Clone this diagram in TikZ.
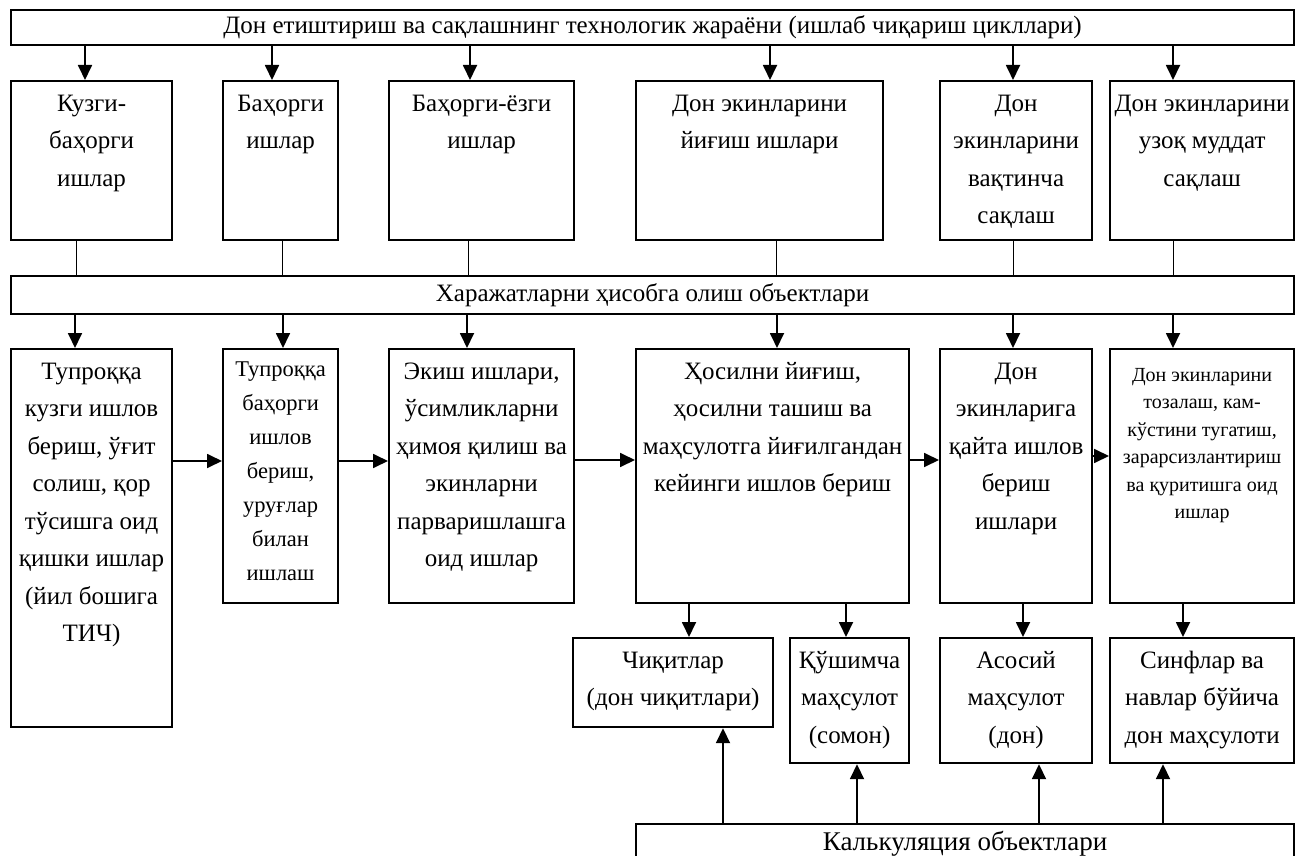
\documentclass[tikz,border=0pt]{standalone}
\usepackage{fontspec}
\setmainfont{Liberation Serif}
\usetikzlibrary{arrows.meta,positioning}
\newcommand{\ustmatn}[4]{\parbox[t][#2][t]{#1}{\centering\rule{0pt}{#3}#4}}

\begin{document}
\begin{tikzpicture}[
    x=1pt,
    y=-1pt,
    font=\fontsize{25}{37.5}\selectfont,
    blok/.style ={
        draw,
        line width=2.2pt,
        inner sep=0pt,
        anchor=north west
    },
    oq/.style ={
        line width=1.8pt,
        -{Triangle[length=15pt,width=14pt]}
    },
    chiziq/.style ={
        line width=1pt
    }
    ]
    \useasboundingbox (0,0) rectangle (1295,856);
    \clip (0,0) rectangle (1295,856);

    \node[blok, minimum width=1283pt, minimum height=35pt] (jarayon) at (10,9)
        {Дон етиштириш ва сақлашнинг технологик жараёни (ишлаб чиқариш цикллари)};
    \node[blok, minimum width=1283pt, minimum height=38pt] (xarajat) at (10,275)
        {Харажатларни ҳисобга олиш объектлари};
    \node[blok, font=\fontsize{27}{37.5}\selectfont] (kalk) at (635,823)
        {\ustmatn{658pt}{45pt}{26.5pt}{Калькуляция объектлари}};

    \foreach \nom/ \x/ \w/ \matn in {
        {a1/10/161/{Кузги-\\баҳорги\\ишлар}}, {a2/222/115/{Баҳорги\\ишлар}}, {a3/388/185/{Баҳорги-ёзги\\ишлар}},
        {a4/635/247/{Дон экинларини\\йиғиш ишлари}}, {a5/939/152/{Дон\\экинларини\\вақтинча\\сақлаш}},
        {a6/1109/184/{Дон экинларини\\узоқ муддат\\сақлаш}}}
        \node[blok] (\nom) at (\x,80) {\ustmatn{\w pt}{159pt}{30pt}{\matn}};

    \foreach \nom/ \x/ \w/ \h/ \fs/ \ls/ \bs/ \matn in {
        {b1/10/161/378/25/37.5/30/{Тупроққа\\кузги ишлов\\бериш, ўғит\\солиш, қор\\тўсишга оид\\қишки ишлар\\(йил бошига\\ТИЧ)}},
        {b2/222/115/254/22.5/34/27/{Тупроққа\\баҳорги\\ишлов\\бериш,\\уруғлар\\билан\\ишлаш}},
        {b3/388/185/254/25/37.5/30/{Экиш ишлари,\\ўсимликларни\\ҳимоя қилиш ва\\экинларни\\парваришлашга\\оид ишлар}},
        {b4/635/273/254/25/37.5/30/{Ҳосилни йиғиш,\\ҳосилни ташиш ва\\маҳсулотга йиғилгандан\\кейинги ишлов бериш}},
        {b5/939/152/254/25/37.5/30/{Дон\\экинларига\\қайта ишлов\\бериш\\ишлари}},
        {b6/1109/184/254/20/27.5/32/{Дон экинларини\\тозалаш, кам-\\кўстини тугатиш,\\зарарсизлантириш\\ва қуритишга оид\\ишлар}}}
        \node[blok, font=\fontsize{\fs}{\ls}\selectfont] (\nom) at (\x,348) {\ustmatn{\w pt}{\h pt}{\bs pt}{\matn}};

    \foreach \nom/ \x/ \w/ \h/ \matn in {
        {c1/572/200/89/{Чиқитлар\\(дон чиқитлари)}}, {c2/789/119/125/{Қўшимча\\маҳсулот\\(сомон)}},
        {c3/939/152/125/{Асосий\\маҳсулот\\(дон)}}, {c4/1109/184/125/{Синфлар ва\\навлар бўйича\\дон маҳсулоти}}}
        \node[blok] (\nom) at (\x,637) {\ustmatn{\w pt}{\h pt}{30pt}{\matn}};

    \foreach \dst/ \x in {a1/85, a2/272, a3/470, a4/770, a5/1013, a6/1173}
        \draw[oq] (jarayon.south -| \x,0) -- (\dst.north -| \x,0);
    \foreach \src/ \x in {a1/76, a2/282, a3/468, a4/776, a5/1013, a6/1173}
        \draw[chiziq] (\src.south -| \x,0) -- (xarajat.north -| \x,0);
    \foreach \dst/ \x in {b1/75, b2/283, b3/467, b4/777, b5/1013, b6/1173}
        \draw[oq] (xarajat.south -| \x,0) -- (\dst.north -| \x,0);

    \foreach \src/ \dst/ \y in {b1/b2/461, b2/b3/461, b3/b4/460, b4/b5/460, b5/b6/456}
        \draw[oq] (\src.east |- 0,\y) -- (\dst.west |- 0,\y);
    \foreach \src/ \dst/ \x in {b4/c1/689, b4/c2/846, b5/c3/1023, b6/c4/1183}
        \draw[oq] (\src.south -| \x,0) -- (\dst.north -| \x,0);
    \foreach \dst/ \x in {c1/723, c2/857, c3/1039, c4/1163}
        \draw[oq] (kalk.north -| \x,0) -- (\dst.south -| \x,0);
\end{tikzpicture}
\end{document}
